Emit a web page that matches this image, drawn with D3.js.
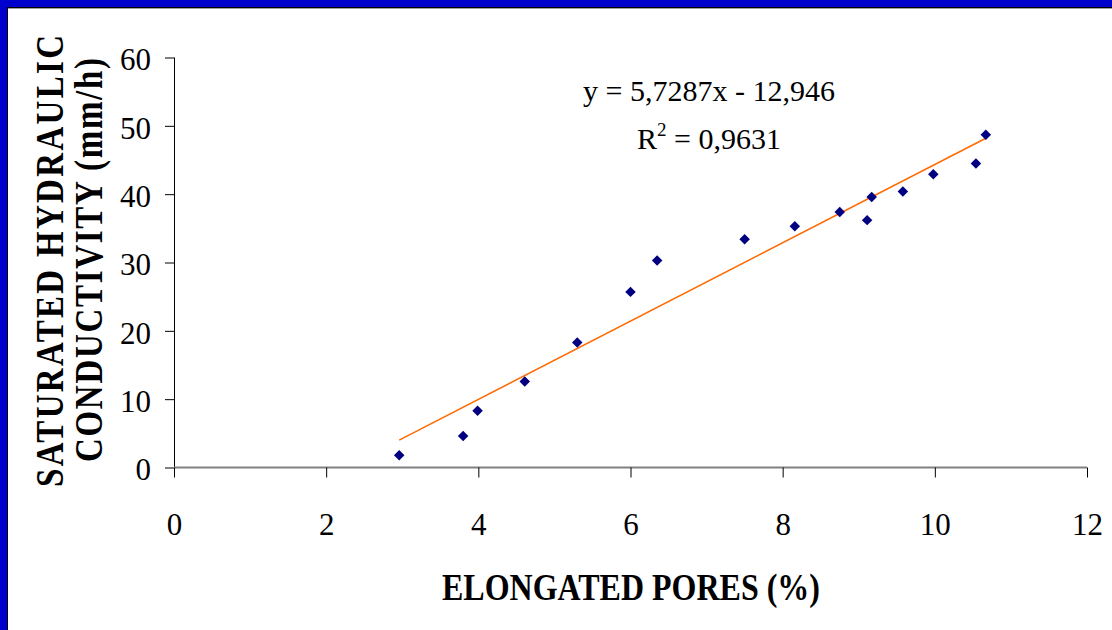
<!DOCTYPE html>
<html>
<head>
<meta charset="utf-8">
<script src="https://cdn.jsdelivr.net/npm/d3@7"></script>
<style>
  html, body { margin: 0; padding: 0; background: #fff; }
  svg { display: block; }
</style>
</head>
<body>
<svg id="chart" width="1112" height="630"></svg>
<script>
// ---- data ----
const elongatedPores = [2.96, 3.80, 3.99, 4.61, 5.30, 6.00, 6.35, 7.50, 8.16, 8.75, 9.11, 9.17, 9.58, 9.98, 10.54, 10.67];
const conductivity   = [1.8, 4.6, 8.3, 12.6, 18.3, 25.7, 30.3, 33.4, 35.3, 37.4, 36.2, 39.6, 40.4, 42.9, 44.5, 48.7];
const xTicks = [0, 2, 4, 6, 8, 10, 12];
const yTicks = [0, 10, 20, 30, 40, 50, 60];
const trendSlope = 5.7287;
const trendIntercept = -12.946;
const equationText = "y = 5,7287x - 12,946";
const r2Text = "0,9631";
const xTitle = "ELONGATED PORES (%)";
const yTitleLines = ["SATURATED HYDRAULIC", "CONDUCTIVITY (mm/h)"];

const svg = d3.select("#chart");
const W = 1112, H = 630;
const serif = "'Liberation Serif', 'Times New Roman', Times, serif";

// frame
svg.append("rect").attr("x", 0).attr("y", 0).attr("width", W).attr("height", H).attr("fill", "#0000CC");
svg.append("rect").attr("x", 7).attr("y", 7).attr("width", W).attr("height", H).attr("fill", "#000");
svg.append("rect").attr("x", 8).attr("y", 8).attr("width", W).attr("height", H).attr("fill", "#a0a0a0");
svg.append("rect").attr("x", 8).attr("y", 9).attr("width", W).attr("height", H).attr("fill", "#fff");

const x = d3.scaleLinear().domain([0, 12]).range([174, 1087]);
const y = d3.scaleLinear().domain([0, 60]).range([467.5, 57.5]);

// y axis
const yAxis = svg.append("g").attr("transform", `translate(${x(0)},0)`)
  .call(d3.axisLeft(y).tickValues(yTicks).tickSize(9).tickPadding(14).tickFormat(d3.format("d")));
yAxis.select(".domain").attr("stroke", "#000").attr("stroke-width", 1).attr("d", `M0.5,${y(60)}V${y(0)}`);
yAxis.selectAll(".tick line").attr("stroke", "#000");
yAxis.selectAll("text").attr("font-family", serif).attr("font-size", 31).attr("fill", "#000").attr("dy", "0.4em");

// x axis
const xAxis = svg.append("g").attr("transform", `translate(0,${y(0)})`)
  .call(d3.axisBottom(x).tickValues(xTicks).tickSize(10).tickPadding(35).tickFormat(d3.format("d")));
xAxis.select(".domain").attr("stroke", "#808080").attr("stroke-width", 2).attr("d", `M${x(0)},0H${x(12)}`);
xAxis.selectAll(".tick line").attr("stroke", "#000");
xAxis.selectAll("text").attr("font-family", serif).attr("font-size", 31).attr("fill", "#000");

// trend line
const xMin = d3.min(elongatedPores), xMax = d3.max(elongatedPores);
const trend = [xMin, xMax].map(v => [v, trendSlope * v + trendIntercept]);
svg.append("path")
  .attr("d", d3.line().x(d => x(d[0])).y(d => y(d[1]))(trend))
  .attr("stroke", "#FF6A00").attr("stroke-width", 1.5).attr("fill", "none");

// points (diamonds)
const diamond = d3.symbol().type(d3.symbolDiamond2).size(70);
svg.append("g").selectAll("path")
  .data(elongatedPores.map((v, i) => [v, conductivity[i]]))
  .join("path")
  .attr("transform", d => `translate(${x(d[0])},${y(d[1])})`)
  .attr("d", diamond)
  .attr("fill", "#000080");

// equation
svg.append("text").attr("x", 709).attr("y", 101)
  .attr("text-anchor", "middle").attr("font-family", serif).attr("font-size", 30).attr("fill", "#000")
  .text(equationText);
const r2 = svg.append("text").attr("x", 709).attr("y", 149)
  .attr("text-anchor", "middle").attr("font-family", serif).attr("font-size", 30).attr("fill", "#000");
r2.append("tspan").text("R");
r2.append("tspan").attr("font-size", 19).attr("dy", -13).text("2");
r2.append("tspan").attr("dy", 13).text(" = " + r2Text);

// x title
svg.append("text").attr("x", 631).attr("y", 600)
  .attr("text-anchor", "middle").attr("font-family", serif).attr("font-weight", "bold")
  .attr("font-size", 37).attr("fill", "#000")
  .attr("textLength", 378).attr("lengthAdjust", "spacingAndGlyphs")
  .text(xTitle);

// y title (two lines, rotated, letter-spaced, glyphs stretched across)
const yTitleSpec = [{bx: 63, cy: 261, len: 452}, {bx: 102, cy: 260, len: 404}];
yTitleLines.forEach((line, i) => {
  const s = yTitleSpec[i];
  svg.append("text")
    .attr("transform", `translate(${s.bx},${s.cy}) rotate(-90) scale(1,1.2)`)
    .attr("text-anchor", "middle").attr("font-family", serif).attr("font-weight", "bold")
    .attr("font-size", 33).attr("fill", "#000")
    .attr("textLength", s.len).attr("lengthAdjust", "spacing")
    .text(line);
});
</script>
</body>
</html>
